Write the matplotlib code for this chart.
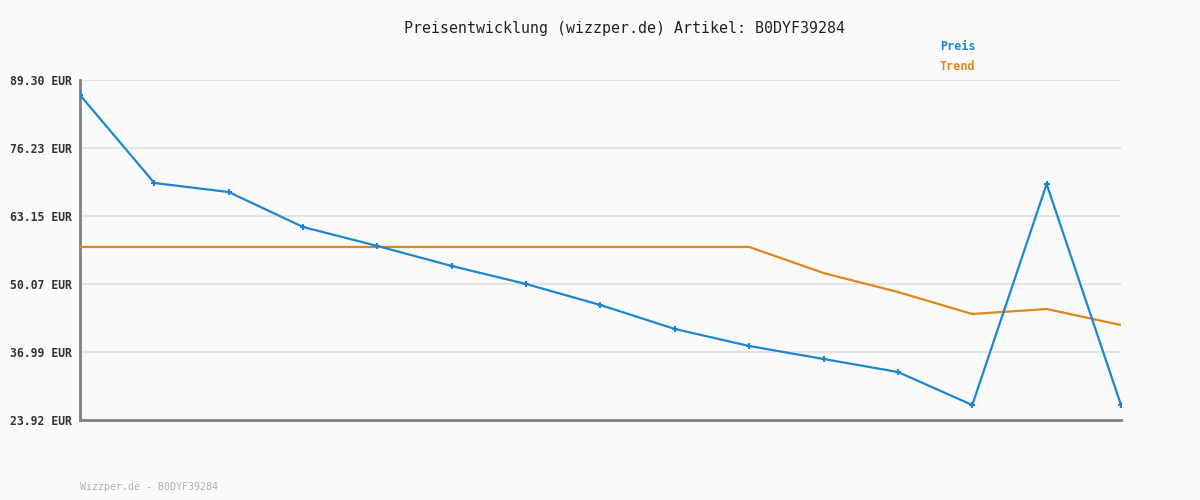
import matplotlib
matplotlib.use("Agg")
import matplotlib.pyplot as plt

preis = [86.42, 69.49, 67.76, 61.03, 57.38, 53.53, 50.07, 46.03, 41.42, 38.15, 35.65, 33.15, 26.80, 69.30, 26.80]
trend = [57.19, 57.19, 57.19, 57.19, 57.19, 57.19, 57.19, 57.19, 57.19, 57.19, 52.18, 48.53, 44.30, 45.26, 42.18]
ytick_vals = [23.92, 36.99, 50.07, 63.15, 76.23, 89.30]
ytick_labels = ["23.92 EUR", "36.99 EUR", "50.07 EUR", "63.15 EUR", "76.23 EUR", "89.30 EUR"]
title = "Preisentwicklung (wizzper.de) Artikel: B0DYF39284"
footer = "Wizzper.de - B0DYF39284"

BLUE = "#1c86d0"
ORANGE = "#e0861c"
BG = "#fafafa"

fig = plt.figure(figsize=(12, 5), dpi=100, facecolor=BG)
ax = fig.add_axes([80/1200, 80/500, (1121-80)/1200, 340/500])
ax.set_facecolor(BG)

x = list(range(len(preis)))
ax.plot(x, trend, color=ORANGE, lw=1.6, zorder=3)
ax.plot(x, preis, color=BLUE, lw=1.6, marker="+", ms=5, mew=1.5, zorder=4)

ax.set_xlim(0, len(preis) - 1)
ax.set_ylim(ytick_vals[0], ytick_vals[-1])
ax.set_yticks(ytick_vals)
ax.set_yticklabels(ytick_labels, fontfamily="DejaVu Sans Mono", fontweight="bold", fontsize=8.3, color="#333333")
ax.set_xticks([])
ax.tick_params(axis="y", length=0, pad=6)
ax.grid(axis="y", color="#e4e4e4", lw=1.5, zorder=0)
for s in ["top", "right"]:
    ax.spines[s].set_visible(False)
for s in ["left", "bottom"]:
    ax.spines[s].set_color("#808080")
    ax.spines[s].set_linewidth(2)

fig.text(624/1200, 1 - 28/500, title, ha="center", va="center",
         fontfamily="DejaVu Sans Mono", fontsize=10.8, color="#222222")
fig.text(940/1200, 1 - 47/500, "Preis", ha="left", va="center",
         fontfamily="DejaVu Sans Mono", fontweight="bold", fontsize=8.5, color=BLUE)
fig.text(940/1200, 1 - 67/500, "Trend", ha="left", va="center",
         fontfamily="DejaVu Sans Mono", fontweight="bold", fontsize=8.5, color=ORANGE)
fig.text(80/1200, 1 - 487/500, footer, ha="left", va="center",
         fontfamily="DejaVu Sans Mono", fontsize=7.2, color="#b0b0b0")

fig.savefig("out.png", dpi=100, facecolor=BG)
